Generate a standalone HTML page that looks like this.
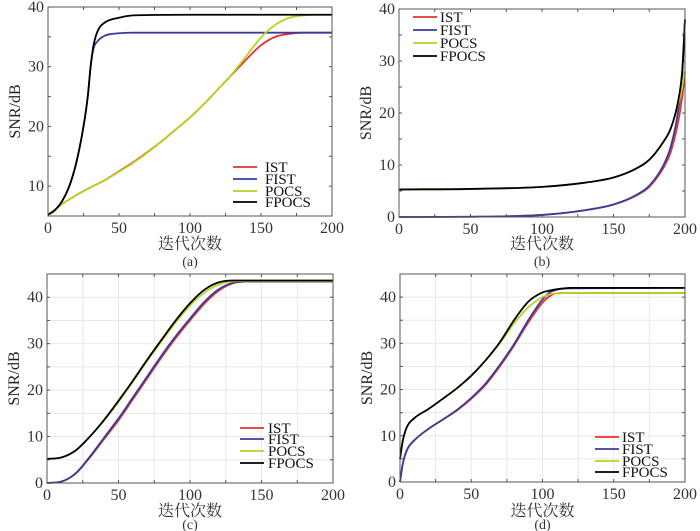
<!DOCTYPE html>
<html><head><meta charset="utf-8"><style>
body{margin:0;background:#fff;}
svg{display:block;font-family:"Liberation Serif","Noto Serif CJK SC",serif;}
</style></head><body>
<svg id="c" width="700" height="531" viewBox="0 0 700 531"></svg>
<script>
const colors={IST:"#e8312e",FIST:"#3b3b9c",POCS:"#b6d222",FPOCS:"#000000"};
const seriesNames=["IST","FIST","POCS","FPOCS"];
// panel a
const aISTx=[0,10,20,30,40,50,60,70,80,90,100,110,120,130,140,150,160,170,180,190,200];
const aISTy=[5.2,7,8.5,9.8,11,12.5,14,15.7,17.5,19.5,21.5,23.8,26.3,28.8,31.3,33.6,35,35.5,35.7,35.7,35.7];
const aPOCSx=[0,10,20,30,40,50,60,70,80,90,100,110,120,130,140,150,160,170,180,190,200];
const aPOCSy=[5.2,7,8.5,9.8,11,12.4,13.9,15.6,17.5,19.5,21.5,23.8,26.3,28.9,31.9,34.9,37,38.2,38.6,38.7,38.7];
const aFISTx=[0,5,10,15,20,25,28,30,32,35,40,50,60,100,200];
const aFISTy=[5.2,6,7.5,10,14,20,25,30,33,34.3,35.2,35.6,35.7,35.7,35.7];
const aFPOCSx=[0,5,10,15,20,25,28,30,32,35,40,50,60,100,200];
const aFPOCSy=[5.2,6,7.5,10,14,20,25,30,33.5,36,37.4,38.2,38.6,38.7,38.7];
// panel b
const bISTx=[0,50,100,130,150,165,175,185,190,195,198,200];
const bISTy=[0,0.05,0.4,1.3,2.4,4,5.8,9.5,12.5,18,23,28];
const bFISTx=[0,50,100,130,150,165,175,185,190,195,198,200];
const bFISTy=[0,0.05,0.4,1.3,2.4,4.1,6,10,13.5,20,27,38];
const bPOCSx=[0,50,100,130,150,165,175,185,190,195,198,199.5];
const bPOCSy=[5.3,5.4,5.8,6.6,7.6,9.2,11,14.5,17,21.5,25,28];
const bFPOCSx=[0,50,100,130,150,165,175,185,190,195,198,200];
const bFPOCSy=[5.3,5.4,5.8,6.6,7.6,9.2,11,14.5,17,22,28,38];
// panel c
const cISTx=[0,10,20,30,40,50,60,70,80,90,100,110,120,130,140,200];
const cISTy=[0,0.3,2,5.5,9.5,13.5,18,22.5,27,31.2,35,38.6,41.4,43,43.4,43.4];
const cFISTy=[0,0.3,2.1,5.7,9.8,13.9,18.4,22.9,27.4,31.6,35.4,39,41.7,43.1,43.4,43.4];
const cPOCSx=[0,10,20,30,40,50,60,70,80,90,100,110,120,130,140,200];
const cPOCSy=[5.2,5.5,7,10,13.5,17.5,21.8,26.3,30.5,34.6,38.2,41,42.7,43.4,43.5,43.5];
const cFPOCSy=[5.2,5.5,7,10,13.6,17.7,22,26.5,30.8,35,38.7,41.6,43.2,43.6,43.6,43.6];
// panel d
const dx=[0,2,5,10,20,30,40,50,60,70,80,90,100,105,110,120,200];
const dISTy=[0,4,7,9,11.5,13.5,15.5,18,21,25,29.5,34.5,38.8,40.2,40.8,40.9,40.9];
const dFISTy=[0,4,7,9,11.5,13.5,15.6,18.2,21.3,25.3,29.8,35,39.5,41,41.6,41.9,42];
const dPOCSy=[5,9,12,13.8,15.8,18,20.3,23,26.3,30,34.3,37.8,40,40.6,40.8,40.9,40.9];
const dFPOCSy=[5,9,12,13.8,15.8,18,20.3,23,26.3,30.2,35,39,41,41.4,41.7,42,42];

const panels=[
 {id:"a",x0:48,x1:332,y0:7,y1:216,ymin:5,ymax:40,yt:[10,20,30,40],grid:false,
  s:[[aISTx,aISTy],[aFISTx,aFISTy],[aPOCSx,aPOCSy],[aFPOCSx,aFPOCSy]],
  leg:{lx:233,tx:265,ys:[167,179,191,202]},xt:249,lab:266},
 {id:"b",x0:399,x1:685,y0:9,y1:217,ymin:0,ymax:40,yt:[0,10,20,30,40],grid:false,
  s:[[bISTx,bISTy],[bFISTx,bFISTy],[bPOCSx,bPOCSy],[bFPOCSx,bFPOCSy]],
  leg:{lx:413,tx:440,ys:[17,30,43,56]},xt:249,lab:266},
 {id:"c",x0:47,x1:333,y0:274,y1:483,ymin:0,ymax:45,yt:[0,10,20,30,40],grid:true,
  s:[[cISTx,cISTy],[cISTx,cFISTy],[cPOCSx,cPOCSy],[cPOCSx,cFPOCSy]],
  leg:{lx:240,tx:268,ys:[428,439,451,463]},xt:516,lab:529},
 {id:"d",x0:400,x1:685,y0:274,y1:482,ymin:0,ymax:45,yt:[0,10,20,30,40],grid:true,
  s:[[dx,dISTy],[dx,dFISTy],[dx,dPOCSy],[dx,dFPOCSy]],
  leg:{lx:595,tx:622,ys:[437,449,461,472]},xt:516,lab:529}
];
const NS="http://www.w3.org/2000/svg";
const svg=document.getElementById("c");
function mk(tag,at,parent){const e=document.createElementNS(NS,tag);for(const k in at)e.setAttribute(k,at[k]);(parent||svg).appendChild(e);return e;}
function monotone(px,py){
 const n=px.length;if(n<2)return "";
 const d=[],m=[];
 for(let i=0;i<n-1;i++)d.push((py[i+1]-py[i])/(px[i+1]-px[i]));
 m[0]=d[0];m[n-1]=d[n-2];
 for(let i=1;i<n-1;i++)m[i]=(d[i-1]*d[i]<=0)?0:(d[i-1]+d[i])/2;
 for(let i=0;i<n-1;i++){if(d[i]===0){m[i]=0;m[i+1]=0;continue;}const a=m[i]/d[i],b=m[i+1]/d[i],s=a*a+b*b;if(s>9){const t=3/Math.sqrt(s);m[i]=t*a*d[i];m[i+1]=t*b*d[i];}}
 let p="M"+px[0]+","+py[0];
 for(let i=0;i<n-1;i++){const h=(px[i+1]-px[i])/3;p+=" C"+(px[i]+h)+","+(py[i]+m[i]*h)+" "+(px[i+1]-h)+","+(py[i+1]-m[i+1]*h)+" "+px[i+1]+","+py[i+1];}
 return p;
}
panels.forEach(P=>{
 const g=mk("g",{});
 
 
 const X=v=>P.x0+(v-0)/200*(P.x1-P.x0);
 const Y=v=>P.y1-(v-P.ymin)/(P.ymax-P.ymin)*(P.y1-P.y0);
 for(let v=0;v<=200;v+=25){const x=X(v);
  if(P.grid&&v>0&&v<200){const l=mk("line",{x1:x,x2:x,y1:P.y0,y2:P.y1,stroke:"#e8e8e8","stroke-width":1},g);}
  mk("line",{x1:x,x2:x,y1:P.y1,y2:P.y1-3,stroke:"#555"},g);mk("line",{x1:x,x2:x,y1:P.y0,y2:P.y0+3,stroke:"#555"},g);}
 for(let v=Math.ceil(P.ymin/5)*5;v<=P.ymax;v+=5){const y=Y(v);
  if(P.grid&&v>P.ymin&&v<P.ymax){const l=mk("line",{x1:P.x0,x2:P.x1,y1:y,y2:y,stroke:"#e8e8e8"},g);}
  mk("line",{x1:P.x0,x2:P.x0+3,y1:y,y2:y,stroke:"#555"},g);mk("line",{x1:P.x1,x2:P.x1-3,y1:y,y2:y,stroke:"#555"},g);}
 P.s.forEach((s,i)=>{
  const px=s[0].map(X),py=s[1].map(Y);
  const path=mk("path",{d:monotone(px,py),fill:"none",stroke:colors[seriesNames[i]],"stroke-width":1.8},g);
  
  
 });
 const fr=mk("rect",{x:P.x0,y:P.y0,width:P.x1-P.x0,height:P.y1-P.y0,fill:"none",stroke:"#555","stroke-width":1},g);
 
 [0,50,100,150,200].forEach(v=>{const t=mk("text",{x:X(v),y:P.y1+17,"text-anchor":"middle","font-size":16,fill:"#333"},g);t.textContent=v;
  });
 P.yt.forEach(v=>{const t=mk("text",{x:P.x0-4,y:Y(v)+5,"text-anchor":"end","font-size":16,fill:"#333"},g);t.textContent=v;
  });
 const yt=mk("text",{x:0,y:0,transform:"translate("+(P.x0-28)+","+((P.y0+P.y1)/2)+") rotate(-90)","text-anchor":"middle","font-size":16,fill:"#222"},g);
 yt.textContent="SNR/dB";
 const xt=mk("text",{x:(P.x0+P.x1)/2,y:P.xt,"text-anchor":"middle","font-size":16,fill:"#333"},g);
 xt.textContent="迭代次数";
 const lb=mk("text",{x:(P.x0+P.x1)/2,y:P.lab,"text-anchor":"middle","font-size":14,fill:"#333"},g);
 lb.textContent="("+P.id+")";
 seriesNames.forEach((n,i)=>{const y=P.leg.ys[i];
  const l=mk("line",{x1:P.leg.lx,x2:P.leg.lx+24,y1:y,y2:y,stroke:colors[n],"stroke-width":1.8},g);
  
  const t=mk("text",{x:P.leg.tx,y:y+5,"font-size":15,fill:"#111"},g);t.textContent=n;
  });
});
</script>
</body></html>
